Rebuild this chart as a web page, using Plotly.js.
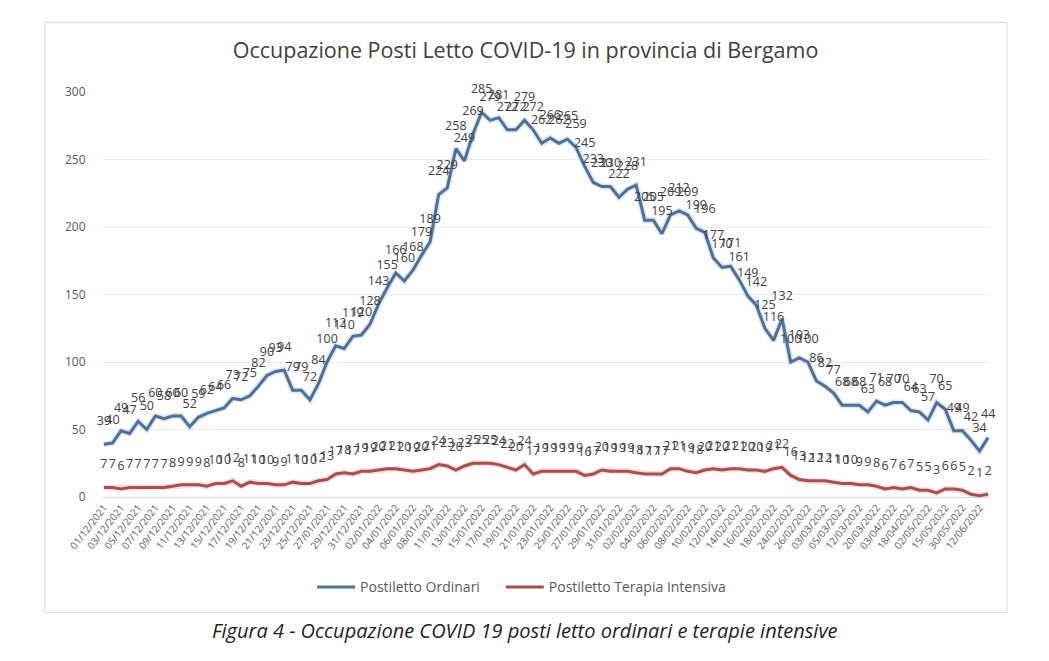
<!DOCTYPE html>
<html>
<head>
<meta charset="utf-8">
<script src="https://cdn.plot.ly/plotly-3.0.1.min.js"></script>
<style>
html,body{margin:0;padding:0;background:#fff;}
#chart{width:1049px;height:661px;}
</style>
</head>
<body>
<div id="chart"></div>
<script>
const dates = [
"01/12/2021","02/12/2021","03/12/2021","04/12/2021","05/12/2021","06/12/2021","07/12/2021","08/12/2021",
"09/12/2021","10/12/2021","11/12/2021","12/12/2021","13/12/2021","14/12/2021","15/12/2021","16/12/2021",
"17/12/2021","18/12/2021","19/12/2021","20/12/2021","21/12/2021","22/12/2021","23/12/2021","24/12/2021",
"25/12/2021","26/12/2021","27/01/2021","28/12/2021","29/12/2021","30/12/2021","31/12/2021","01/01/2022",
"02/01/2022","03/01/2022","04/01/2022","05/01/2022","06/01/2022","07/01/2022","08/01/2022","10/01/2022",
"11/01/2022","12/01/2022","13/01/2022","14/01/2022","15/01/2022","16/01/2022","17/01/2022","18/01/2022",
"19/01/2022","20/01/2022","21/01/2022","22/01/2022","23/01/2022","24/01/2022","25/01/2022","26/01/2022",
"27/01/2022","28/01/2022","29/01/2022","30/01/2022","31/01/2022","01/02/2022","02/02/2022","03/02/2022",
"04/02/2022","05/02/2022","06/02/2022","07/02/2022","08/02/2022","09/02/2022","10/02/2022","11/02/2022",
"12/02/2022","13/02/2022","14/02/2022","15/02/2022","16/02/2022","17/02/2022","18/02/2022","21/02/2022",
"24/02/2022","25/02/2022","26/02/2022","28/02/2022","03/03/2022","04/03/2022","05/03/2022","08/03/2022",
"12/03/2022","16/03/2022","20/03/2022","27/03/2022","03/04/2022","10/04/2022","18/04/2022","25/04/2022",
"02/05/2022","08/05/2022","15/05/2022","22/05/2022","30/05/2022","05/06/2022","12/06/2022","19/06/2022"
];

const tickLabels = [
"01/12/2021","03/12/2021","05/12/2021","07/12/2021","09/12/2021","11/12/2021","13/12/2021","15/12/2021",
"17/12/2021","19/12/2021","21/12/2021","23/12/2021","25/12/2021","27/01/2021","29/12/2021","31/12/2021",
"02/01/2022","04/01/2022","06/01/2022","08/01/2022","11/01/2022","13/01/2022","15/01/2022","17/01/2022",
"19/01/2022","21/01/2022","23/01/2022","25/01/2022","27/01/2022","29/01/2022","31/01/2022","02/02/2022",
"04/02/2022","06/02/2022","08/02/2022","10/02/2022","12/02/2022","14/02/2022","16/02/2022","18/02/2022",
"24/02/2022","26/02/2022","03/03/2022","05/03/2022","12/03/2022","20/03/2022","03/04/2022","18/04/2022",
"02/05/2022","15/05/2022","30/05/2022","12/06/2022"
];

const ordinari = [
39,40,49,47,56,50,60,58,60,60,52,59,62,64,66,73,72,75,82,90,93,94,79,79,72,84,
100,112,110,119,120,128,143,155,166,160,168,179,189,224,229,258,249,269,285,279,281,272,272,279,
272,262,266,262,265,259,245,233,230,230,222,228,231,205,205,195,209,212,209,199,196,177,170,171,161,149,142,125,116,132,
100,103,100,86,82,77,68,68,68,63,71,68,70,70,64,63,57,70,65,49,49,42,34,44
];

const intensiva = [
7,7,6,7,7,7,7,7,8,9,9,9,8,10,10,12,8,11,10,10,9,9,11,10,10,12,13,
17,18,17,19,19,20,21,21,20,19,20,21,24,23,20,23,25,25,25,24,22,20,24,
17,19,19,19,19,19,16,17,20,19,19,19,18,17,17,17,21,21,19,18,20,21,20,21,21,20,20,19,21,22,16,
13,12,12,12,11,10,10,9,9,8,6,7,6,7,5,5,3,6,6,5,2,1,2
];

const seriesNames = ["Postiletto Ordinari", "Postiletto Terapia Intensiva"];
const blue = "#4f7096";
const red = "#a84f4f";
const labelFont = {family: "Open Sans, sans-serif", size: 12.5, color: "#404040"};

const traces = [
  {x: dates, y: ordinari, type: "scatter", mode: "lines", showlegend: false, hoverinfo: "skip",
   line: {color: "rgba(140,175,215,0.3)", width: 6}},
  {x: dates, y: intensiva, type: "scatter", mode: "lines", showlegend: false, hoverinfo: "skip",
   line: {color: "rgba(225,145,145,0.3)", width: 6}},
  {x: dates, y: ordinari, name: seriesNames[0], type: "scatter", mode: "lines+markers+text",
   line: {color: blue, width: 3}, marker: {size: 24, color: "rgba(0,0,0,0)"}, legend: "legend",
   texttemplate: "%{y}", textposition: "top center", textfont: labelFont, cliponaxis: false},
  {x: dates, y: intensiva, name: seriesNames[1], type: "scatter", mode: "lines+markers+text",
   line: {color: red, width: 3}, marker: {size: 24, color: "rgba(0,0,0,0)"}, legend: "legend2",
   texttemplate: "%{y}", textposition: "top center", textfont: labelFont, cliponaxis: false}
];

const legendBase = {orientation: "h", y: -0.223, yanchor: "middle", xanchor: "left",
                    font: {size: 14, color: "#595959"}, itemwidth: 38, bgcolor: "rgba(0,0,0,0)"};

const layout = {
  width: 1049, height: 661,
  margin: {l: 103, r: 60, t: 92, b: 164},
  paper_bgcolor: "#ffffff", plot_bgcolor: "#ffffff",
  font: {family: "Open Sans, sans-serif", color: "#595959"},
  title: {text: "Occupazione Posti Letto COVID-19 in provincia di Bergamo",
          font: {family: "Open Sans, sans-serif", size: 21.5, color: "#404040"},
          x: 0.501, xref: "container", xanchor: "center", y: 0.924, yref: "container", yanchor: "middle"},
  xaxis: {type: "category", range: [-0.1, 103.1], tickvals: tickLabels, tickangle: -52,
          tickfont: {size: 10, color: "#595959"}, showgrid: false, showline: true, linecolor: "#d9d9d9",
          linewidth: 1, ticks: "", fixedrange: true},
  yaxis: {range: [0, 300], tickvals: [0, 50, 100, 150, 200, 250, 300], showgrid: true, gridcolor: "#ececec",
          zeroline: false, showline: false, ticks: "outside", ticklen: 14, tickcolor: "rgba(0,0,0,0)",
          tickfont: {size: 12, color: "#595959"}, fixedrange: true},
  legend: Object.assign({}, legendBase, {x: 0.236}),
  legend2: Object.assign({}, legendBase, {x: 0.449}),
  shapes: [
    {type: "rect", xref: "paper", yref: "paper", x0: -0.0655, x1: 1.0203, y0: -0.285, y1: 1.172,
     line: {color: "#d9d9d9", width: 1}, fillcolor: "rgba(0,0,0,0)", layer: "below"}
  ],
  annotations: [
    {text: "<i>Figura 4 - Occupazione COVID 19 posti letto ordinari e terapie intensive</i>",
     xref: "paper", yref: "paper", x: 0.4768, y: -0.329, xanchor: "center", yanchor: "middle",
     showarrow: false, font: {family: "Open Sans, sans-serif", size: 20, color: "#1f1f1f"}}
  ]
};

Plotly.newPlot("chart", traces, layout, {displayModeBar: false, staticPlot: true});
</script>
</body>
</html>
